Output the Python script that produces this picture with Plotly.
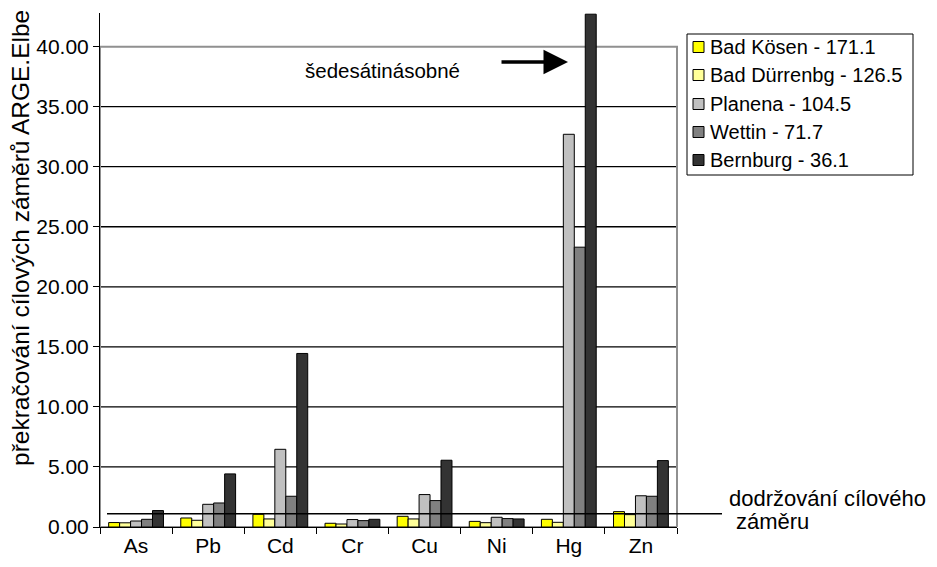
import plotly.graph_objects as go

categories = ["As", "Pb", "Cd", "Cr", "Cu", "Ni", "Hg", "Zn"]
series_names = ["Bad Kösen - 171.1", "Bad Dürrenbg - 126.5", "Planena - 104.5",
                "Wettin - 71.7", "Bernburg - 36.1"]
bad_kosen = [0.37, 0.75, 1.06, 0.31, 0.89, 0.47, 0.64, 1.28]
bad_durrenbg = [0.35, 0.56, 0.67, 0.25, 0.67, 0.36, 0.39, 1.03]
planena = [0.50, 1.89, 6.47, 0.62, 2.70, 0.81, 32.7, 2.60]
wettin = [0.64, 2.00, 2.56, 0.53, 2.20, 0.70, 23.3, 2.56]
bernburg = [1.37, 4.42, 14.45, 0.64, 5.56, 0.67, 42.7, 5.53]
y_ticks = [0, 5, 10, 15, 20, 25, 30, 35, 40]
threshold = 1.1
colors = ["#FFFF00", "#FFFF99", "#C0C0C0", "#808080", "#333333"]

FONT = "Arial, Liberation Sans, sans-serif"

fig = go.Figure()
for name, vals, col in zip(series_names,
                           [bad_kosen, bad_durrenbg, planena, wettin, bernburg],
                           colors):
    fig.add_trace(go.Bar(x=categories, y=vals, name=name,
                         marker=dict(color=col, line=dict(color="black", width=1))))

# the page body has an 8px margin; work in window pixels and compensate
OFF = 8
X0, W = 100, 577          # plot area in window pixels
T, B = 13, 527
H = B - T
FW, FH = 937 - OFF, 567 - OFF


def px(x):
    return (x - X0) / W


def py(y):
    return (B - y) / H


fig.update_layout(
    width=FW, height=FH,
    margin=dict(l=X0 - OFF, r=FW - (X0 - OFF) - W, t=T - OFF, b=FH - (B - OFF)),
    paper_bgcolor="white", plot_bgcolor="white",
    barmode="group", bargap=0.24, bargroupgap=0,
    font=dict(family=FONT, size=21, color="black"),
    showlegend=False,
    xaxis=dict(showline=True, linecolor="black", linewidth=1,
               ticks="outside", tickson="boundaries", ticklen=6, tickcolor="black",
               showgrid=False, tickfont=dict(size=21)),
    yaxis=dict(range=[0, 42.8], tickvals=y_ticks,
               tickformat=".2f", showline=True, linecolor="black", linewidth=1,
               ticks="outside", ticklen=6, tickcolor="black",
               showgrid=False, zeroline=False, tickfont=dict(size=21)),
)

# gridlines (inner ticks only)
for v in y_ticks[1:-1]:
    fig.add_shape(type="line", xref="paper", yref="y", x0=0, x1=1, y0=v, y1=v,
                  line=dict(color="#000000", width=1.3), layer="below")
# plot-area frame (up to 40)
fig.add_shape(type="rect", xref="paper", yref="y", x0=0, x1=1, y0=0, y1=y_ticks[-1],
              line=dict(color="#909090", width=2), layer="below")
# threshold line
fig.add_shape(type="line", xref="paper", yref="y", x0=px(107), x1=px(722),
              y0=threshold, y1=threshold, line=dict(color="black", width=1.5),
              layer="above")

# manual legend
fig.add_shape(type="rect", xref="paper", yref="paper", x0=px(687), x1=px(913),
              y0=py(175), y1=py(34), line=dict(color="black", width=1),
              fillcolor="white", layer="above")
row_y = [47, 75, 104, 132, 160]
for name, col, yy in zip(series_names, colors, row_y):
    fig.add_shape(type="rect", xref="paper", yref="paper", x0=px(693), x1=px(704),
                  y0=py(yy + 5.5), y1=py(yy - 5.5),
                  line=dict(color="black", width=1), fillcolor=col, layer="above")
    fig.add_annotation(xref="paper", yref="paper", x=px(708), y=py(yy),
                       text=name, showarrow=False, font=dict(size=20),
                       xanchor="left", yanchor="middle")

fig.add_annotation(xref="paper", yref="paper", x=px(20), y=py(238),
                   text="překračování cílových záměrů ARGE.Elbe", textangle=-90,
                   showarrow=False, font=dict(size=24.5), xanchor="center", yanchor="middle")
fig.add_annotation(xref="paper", yref="paper", x=px(382), y=py(70),
                   text="šedesátinásobné", showarrow=False, font=dict(size=20.5),
                   xanchor="center", yanchor="middle")
fig.add_annotation(xref="paper", yref="paper", x=px(568), y=py(62), text="",
                   showarrow=True, ax=-68, ay=0, arrowhead=2, arrowsize=1.4,
                   arrowwidth=3.5, arrowcolor="black")
fig.add_annotation(xref="paper", yref="paper", x=px(727), y=py(498),
                   text="dodržování cílového", showarrow=False, font=dict(size=22),
                   xanchor="left", yanchor="middle")
fig.add_annotation(xref="paper", yref="paper", x=px(734), y=py(521),
                   text="záměru", showarrow=False, font=dict(size=22),
                   xanchor="left", yanchor="middle")

fig.write_html("out.html")
